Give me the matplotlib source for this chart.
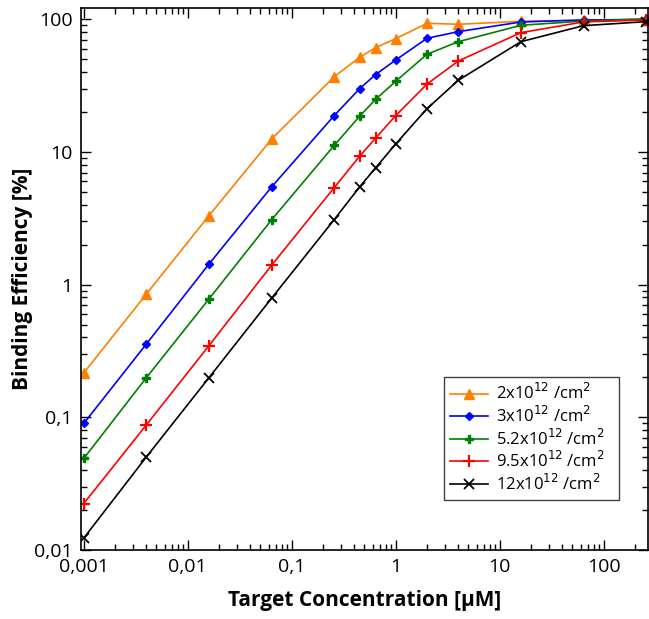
import matplotlib
matplotlib.use("Agg")
from matplotlib import pyplot as plt
from matplotlib.ticker import FixedLocator, FixedFormatter, LogLocator, NullFormatter

plt.rcParams["font.family"] = ["Open Sans", "DejaVu Sans"]

# target concentration [uM]
conc = [0.001, 0.004, 0.016, 0.064, 0.256, 0.45, 0.64, 1, 2, 4, 16, 64, 256]

# binding efficiency [%] per probe density
eff_2 = [0.216, 0.85, 3.31, 12.5, 36.9, 51.7, 61.1, 71.4, 93.3, 91.7, 96.5, 98.5, 99.5]
eff_3 = [0.090, 0.357, 1.43, 5.45, 18.8, 30.0, 38.3, 49.3, 71.9, 80.7, 95.4, 98.8, 99.8]
eff_5_2 = [0.049, 0.199, 0.78, 3.08, 11.2, 18.6, 24.9, 34.1, 54.5, 67.8, 90.1, 97.0, 100.5]
eff_9_5 = [0.0224, 0.0877, 0.347, 1.40, 5.38, 9.3, 12.7, 18.8, 32.5, 48.5, 79.3, 95.5, 98.8]
eff_12 = [0.0123, 0.0503, 0.199, 0.79, 3.09, 5.46, 7.58, 11.5, 21.2, 34.7, 67.8, 89.5, 96.0]

labels = [r"2x10$^{12}$ /cm$^2$", r"3x10$^{12}$ /cm$^2$", r"5.2x10$^{12}$ /cm$^2$",
          r"9.5x10$^{12}$ /cm$^2$", r"12x10$^{12}$ /cm$^2$"]

x_ticks = [0.001, 0.01, 0.1, 1, 10, 100]
x_tick_labels = ["0,001", "0,01", "0,1", "1", "10", "100"]
y_ticks = [0.01, 0.1, 1, 10, 100]
y_tick_labels = ["0,01", "0,1", "1", "10", "100"]

series = [
    (eff_2, "#ff8000", "^", 7, 1.0),
    (eff_3, "#0000ff", "D", 4.5, 1.0),
    (eff_5_2, "#008000", "P", 5.5, 1.0),
    (eff_9_5, "#ff0000", "+", 9, 1.6),
    (eff_12, "#000000", "x", 7, 1.3),
]

fig = plt.figure(figsize=(6.49, 6.19), dpi=100)
ax = fig.add_axes([0.1248, 0.1115, 0.8737, 0.8751])

for (y, color, marker, ms, mew), label in zip(series, labels):
    ax.plot(conc, y, "-", color=color, marker=marker, markersize=ms,
            markeredgewidth=mew, linewidth=1.2, label=label)

ax.set_xscale("log")
ax.set_yscale("log")
ax.set_xlim(0.00094, 267)
ax.set_ylim(0.01, 121)

ax.xaxis.set_major_locator(FixedLocator(x_ticks))
ax.xaxis.set_major_formatter(FixedFormatter(x_tick_labels))
ax.yaxis.set_major_locator(FixedLocator(y_ticks))
ax.yaxis.set_major_formatter(FixedFormatter(y_tick_labels))
ax.xaxis.set_minor_locator(LogLocator(base=10, subs=range(2, 10), numticks=20))
ax.yaxis.set_minor_locator(LogLocator(base=10, subs=range(2, 10), numticks=20))
ax.xaxis.set_minor_formatter(NullFormatter())
ax.yaxis.set_minor_formatter(NullFormatter())

ax.tick_params(which="both", direction="in", top=True, right=True, labelsize=14)
ax.tick_params(which="major", length=7, width=1)
ax.tick_params(which="minor", length=4, width=1)
ax.tick_params(axis="x", which="major", pad=6)
ax.tick_params(axis="y", which="major", pad=6)
for s in ax.spines.values():
    s.set_linewidth(1.2)

ax.set_xlabel("Target Concentration [µM]", fontsize=15, fontweight="bold", labelpad=10)
ax.set_ylabel("Binding Efficiency [%]", fontsize=15, fontweight="bold", labelpad=1)

leg = ax.legend(loc="lower left", bbox_to_anchor=(0.64, 0.093, 0.309, 0.224),
                mode="expand", fontsize=12, handlelength=2.3, borderaxespad=0,
                fancybox=False, framealpha=1, edgecolor="#404040",
                labelspacing=0.15, borderpad=0.35, handletextpad=0.5)
leg.get_frame().set_linewidth(1.0)

fig.savefig("out.png", dpi=100)
plt.close(fig)
